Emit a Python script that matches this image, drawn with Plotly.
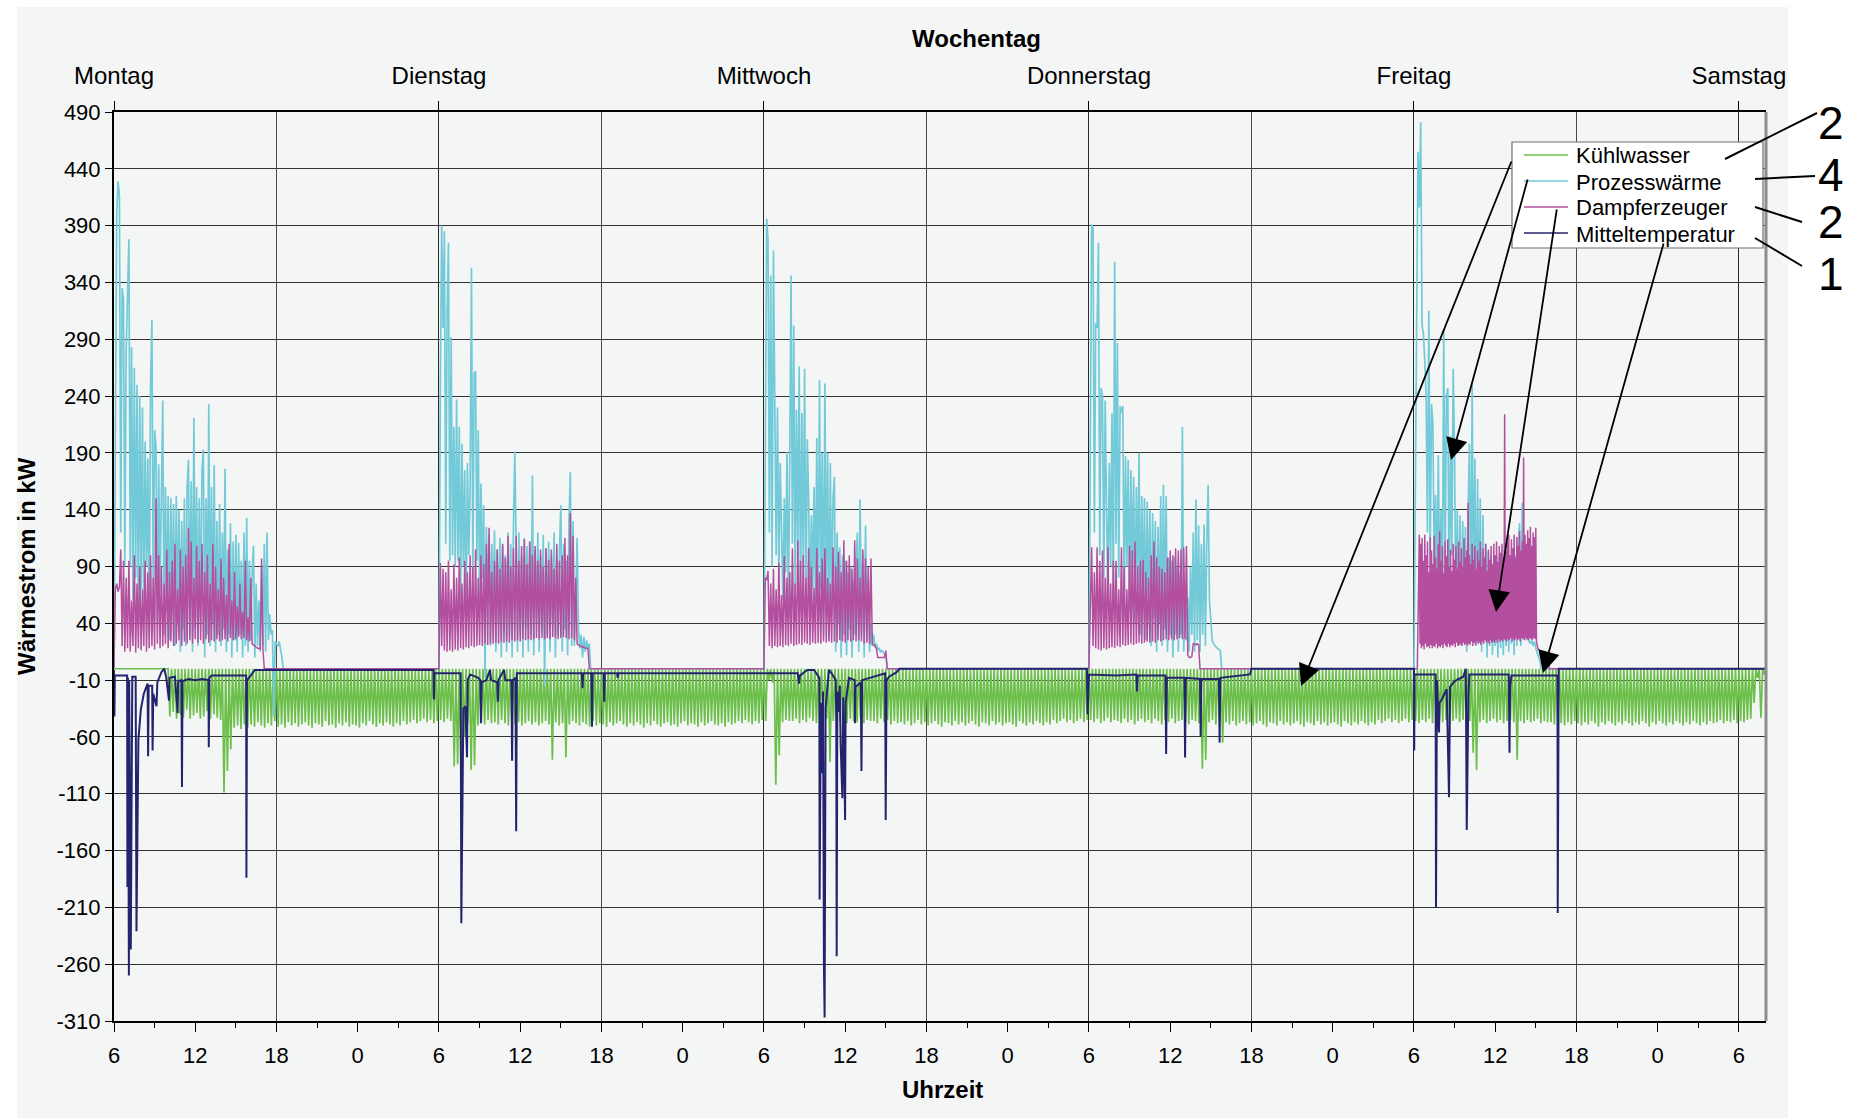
import plotly.graph_objects as go

# ------------------------------------------------------------------ data
DAY_NAMES = ["Montag", "Dienstag", "Mittwoch", "Donnerstag", "Freitag", "Samstag"]
DAY_TICKS = [6, 30, 54, 78, 102, 126]          # 6:00 of each day, hours since Monday 0:00
HOUR_TICKS = list(range(6, 127, 6))
HOUR_LABELS = [str(h % 24) for h in HOUR_TICKS]
Y_TICKS = list(range(-310, 491, 50))
Y_LABELS = [str(v) for v in Y_TICKS]
X_END = 128                                     # Saturday ~8:00
DAY_STARTS = [6, 30, 54, 78, 102]               # start of the sampled working periods
SAMPLE_H = 0.1                                  # sampling interval Prozesswärme / Dampferzeuger
FRI_MAG_SAMPLE_H = 0.05
GREEN_CYCLE_H = 0.25
GREEN_TOP = 0

# Prozesswärme (kW), sampled every 0.1 h from 6:00
cyan_mon = [0, 230, 400, 429, 416, 120, 335, 325, 90, 280,
            336, 378, 90, 283, 60, 265, 80, 250, 40, 240,
            70, 230, 40, 200, 90, 185, 30, 250, 307, 60,
            210, 196, 40, 180, 70, 170, 236, 30, 160, 50,
            152, 25, 150, 50, 145, 20, 152, 40, 140, 15,
            130, 35, 150, 20, 160, 184, 30, 165, 15, 221,
            35, 160, 20, 150, 40, 175, 193, 10, 150, 30,
            233, 20, 160, 40, 179, 15, 130, 30, 145, 20,
            120, 35, 176, 15, 105, 30, 128, 10, 112, 25,
            118, 15, 111, 30, 95, 10, 120, 20, 133, 15,
            95, 25, 85, 108, 10, 75, 20, 60, 15, 90,
            20, 110, 15, 120, 25, 48, 30, 34, -42, 24,
            22, 20, 24, 18, 10, 0]
cyan_tue = [0, 250, 390, 300, 385, 110, 315, 375, 95, 292,
            100, 213, 90, 237, 95, 213, 60, 198, 90, 175,
            40, 181, 100, 160, 353, 80, 260, 262, 95, 210,
            60, 163, 80, 144, -8, 125, 60, 118, 20, 110,
            50, 122, 15, 105, 40, 115, 10, 108, 45, 100,
            15, 120, 30, 110, 10, 125, 191, 105, 15, 120,
            30, 100, 10, 115, 35, 108, 15, 112, 30, 170,
            12, 105, 40, 120, 15, 100, 35, 118, -15, 106,
            30, 112, 15, 100, 40, 120, 10, 100, 30, 105,
            144, 15, 110, 35, 95, 12, 130, 173, 20, 130,
            20, 60, 115, 34, 18, 30, 10, 28, 15, 25,
            18, 22, 0]
cyan_wed = [0, 200, 396, 377, 120, 346, 90, 368, 234, 100,
            230, 80, 181, 131, 60, 150, 85, 191, 50, 180,
            346, 110, 302, 70, 228, 100, 266, 60, 225, 90,
            264, 50, 202, 149, 40, 135, 70, 160, 60, 203,
            40, 254, 70, 190, 30, 251, 60, 190, 25, 181,
            50, 150, 169, 15, 120, 40, 107, 10, 100, 30,
            95, 12, 85, 35, 90, 10, 78, 30, 95, 120,
            15, 149, 30, 100, 10, 126, 25, 78, 15, 40,
            20, 30, 19, 22, 17, 18, 15, 16, 14, 13,
            12, 0]
cyan_thu = [0, 250, 391, 388, 120, 304, 300, 375, 100, 247,
            240, 80, 236, 140, 70, 181, 90, 225, 60, 358,
            110, 287, 80, 231, 225, 231, 60, 187, 90, 184,
            50, 175, 80, 169, 40, 160, 70, 190, 30, 152,
            60, 150, 25, 147, 50, 140, 20, 137, 45, 130,
            15, 125, 40, 152, 20, 162, 35, 152, 15, 98,
            30, 95, 10, 98, 30, 90, 15, 84, 30, 213,
            15, 57, 25, 63, 15, 90, 30, 120, 15, 149,
            25, 126, 15, 110, 30, 127, 20, 110, 162, 60,
            40, 25, 22, 20, 19, 18, 17, 16, 0]
cyan_fri = [0, 150, 300, 455, 406, 481, 302, 295, 271, 240,
            120, 315, 100, 233, 215, 90, 153, 60, 188, 70,
            140, 50, 299, 80, 240, 247, 60, 205, 100, 264,
            188, 40, 140, 30, 135, 20, 130, 40, 125, 15,
            140, 198, 30, 250, 60, 185, 20, 167, 40, 150,
            15, 135, 25, 110, 10, 103, 20, 100, 12, 95,
            20, 100, 10, 98, 18, 105, 12, 95, 20, 100,
            15, 98, 22, 104, 12, 100, 20, 110, 128, 20,
            146, 30, 100, 25, 60, 24, 22, 25, 20, 24,
            18, 14, 10, 7, 0]

# Dampferzeuger (kW), sampled every 0.1 h (Friday every 0.05 h) from 6:00
mag_mon = [0, 70, 75, 68, 72, 105, 20, 95, 15, 80,
           18, 95, 15, 60, 20, 100, 14, 75, 18, 90,
           16, 70, 20, 95, 15, 85, 18, 100, 20, 80,
           17, 150, 22, 100, 18, 90, 20, 75, 22, 105,
           18, 85, 24, 95, 20, 110, 22, 70, 25, 105,
           20, 90, 24, 100, 22, 124, 25, 112, 22, 80,
           26, 108, 23, 95, 25, 110, 22, 85, 26, 100,
           23, 75, 25, 110, 24, 90, 26, 70, 24, 97,
           25, 80, 26, 65, 24, 110, 27, 60, 25, 85,
           26, 55, 28, 75, 26, 50, 27, 95, 25, 45,
           24, 80, 22, 21, 20, 19, 18, 18, 17, 97,
           17, 0]
mag_tue = [0, 93, 20, 88, 16, 85, 15, 95, 16, 70,
           15, 92, 17, 80, 16, 98, 18, 75, 17, 95,
           19, 85, 18, 100, 20, 90, 19, 105, 20, 80,
           21, 100, 20, 92, 22, 110, 21, 124, 22, 85,
           22, 95, 23, 105, 22, 88, 24, 110, 23, 98,
           24, 117, 23, 90, 25, 106, 24, 117, 25, 95,
           24, 108, 26, 114, 25, 92, 26, 112, 25, 100,
           26, 108, 27, 95, 26, 105, 27, 90, 26, 106,
           27, 96, 26, 105, 28, 88, 27, 110, 26, 95,
           27, 100, 28, 115, 27, 100, 26, 137, 27, 117,
           25, 80, 22, 21, 20, 20, 19, 19, 18, 18,
           18, 0]
mag_wed = [0, 80, 78, 86, 20, 75, 18, 88, 20, 70,
           19, 93, 20, 65, 19, 99, 21, 80, 20, 85,
           22, 106, 20, 75, 21, 113, 22, 95, 21, 100,
           23, 80, 22, 106, 21, 90, 23, 71, 22, 106,
           23, 85, 22, 97, 24, 106, 23, 80, 24, 75,
           23, 107, 24, 90, 23, 103, 25, 85, 24, 113,
           23, 95, 25, 100, 24, 88, 25, 113, 24, 97,
           25, 80, 24, 105, 22, 97, 23, 90, 22, 97,
           22, 21, 20, 18, 10, 10, 10, 10, 10, 10,
           16, 0]
mag_thu = [0, 63, 107, 20, 85, 18, 107, 17, 95, 16,
           104, 18, 80, 17, 107, 18, 75, 19, 95, 18,
           95, 20, 70, 19, 107, 21, 90, 20, 70, 21,
           108, 22, 104, 21, 112, 22, 90, 23, 95, 22,
           96, 23, 85, 24, 80, 23, 100, 24, 112, 23,
           98, 25, 90, 24, 88, 25, 85, 26, 98, 25,
           104, 26, 100, 25, 106, 26, 104, 27, 105, 26,
           107, 26, 108, 12, 10, 10, 11, 22, 22, 21,
           22, 21, 0]
mag_fri = [0, 0, 0, 0, 0, 0, 40, 95, 118, 22,
           110, 18, 115, 20, 95, 17, 118, 22, 100, 19,
           112, 20, 85, 18, 116, 21, 104, 18, 92, 20,
           117, 19, 98, 22, 88, 18, 110, 20, 121, 19,
           95, 21, 108, 18, 84, 22, 112, 20, 99, 19,
           114, 22, 90, 19, 105, 21, 86, 20, 110, 22,
           96, 19, 108, 23, 88, 20, 112, 21, 94, 22,
           106, 20, 90, 23, 115, 21, 98, 22, 104, 20,
           146, 22, 100, 21, 92, 24, 110, 20, 96, 23,
           108, 21, 88, 24, 104, 22, 95, 23, 112, 21,
           90, 24, 106, 22, 98, 25, 110, 23, 86, 24,
           105, 22, 96, 25, 108, 23, 92, 24, 110, 23,
           100, 25, 112, 23, 94, 26, 108, 24, 102, 25,
           110, 24, 96, 26, 224, 25, 104, 24, 112, 26,
           118, 25, 100, 27, 114, 24, 106, 26, 118, 25,
           98, 27, 116, 25, 108, 26, 121, 24, 104, 27,
           112, 26, 186, 25, 118, 27, 110, 26, 122, 25,
           115, 27, 125, 26, 108, 25, 120, 27, 116, 26,
           124, 24, 20, 18, 17, 16, 16, 15, 14, 14,
           13, 13, 12, 12, 11, 11, 10, 10, 10, 10,
           0]

# Kühlwasser: trough of each 0.25 h cycle (kW), from Monday 6:00
green_mon = [0, 0, 0, 0, 0, 0, 0, 0, 0, 0, 0, 0, 0, 0, 0, 0,
             -42, -38, -44, -40, -43, -36, -44, -41, -39, -44, -42, -37, -44, -40, -43, -45,
             -109, -90, -71, -52, -50, -53, -49, -52,
             -49, -51, -47, -50, -52, -48, -50, -46, -51, -49, -52, -47, -50, -48, -51, -49,
             -47, -50, -52, -48, -49, -51, -46, -50, -49, -52, -48, -50, -47, -51, -49, -50,
             -52, -48, -50, -46, -49, -51, -48, -50, -47, -49, -51, -48, -50, -46, -49, -47,
             -45, -48, -46, -44, -47, -45, -48, -46]
green_tue = [-45, -47, -44, -46, -86, -84, -86, -60,
             -48, -89, -85, -50, -47, -49, -45, -48,
             -47, -49, -45, -48, -50, -46, -49, -47, -50, -48, -46, -49, -47, -50, -48, -46,
             -49, -80, -47, -50, -48, -78, -49, -46,
             -48, -50, -47, -49, -51, -46, -50, -48, -49, -51, -47, -50, -48, -46, -49, -51,
             -48, -50, -47, -49, -52, -48, -50, -46, -49, -51, -48, -47, -50, -49, -51, -48,
             -46, -50, -48, -49, -51, -47, -50, -48, -46, -49, -50, -48, -51, -47, -49, -48,
             -46, -48, -45, -47, -49, -46, -48, -45]
green_wed = [-46, -10, -12, -102, -76, -47, -45, -46,
             -46, -44, -48, -45, -47, -43, -46, -48,
             -45, -47, -44, -82, -46, -43, -47, -45, -48, -44, -46, -47, -43, -48, -45, -46,
             -46, -48, -44, -47, -45, -49, -46, -48,
             -47, -49, -46, -50, -48, -45, -49, -47, -50, -48, -46, -49, -51, -47, -48, -50,
             -46, -49, -47, -50, -48, -46, -49, -51, -47, -48, -50, -46, -49, -47, -50, -48,
             -47, -49, -51, -46, -48, -50, -47, -49, -46, -48, -50, -47, -49, -45, -48, -46,
             -44, -47, -45, -48, -46, -44, -47, -45]
green_thu = [-45, -47, -44, -48, -46, -43, -47, -45,
             -46, -48, -44, -47, -45, -49, -46, -44,
             -47, -45, -48, -44, -46, -49, -45, -47, -44, -48, -46, -45, -47, -49, -45, -46,
             -48, -88, -80, -47, -45, -49, -46, -65,
             -47, -49, -46, -50, -48, -46, -49, -47, -50, -48, -46, -49, -51, -47, -48, -50,
             -46, -49, -47, -50, -48, -46, -49, -51, -47, -48, -50, -46, -49, -47, -50, -48,
             -47, -49, -51, -46, -48, -50, -47, -49, -46, -48, -50, -47, -49, -45, -48, -46,
             -44, -47, -45, -48, -46, -44, -47, -45]
green_fri = [-46, -48, -45, -47, -44, -48, -46, -45,
             -47, -45, -48, -46, -44, -47, -45, -48,
             -46, -74, -89, -47, -45, -48, -46, -44, -47, -45, -48, -46, -45, -47, -80, -46,
             -48, -45, -47, -46, -44, -48, -46, -47,
             -47, -49, -46, -48, -50, -47, -49, -46, -48, -50, -47, -49, -46, -48, -51, -47,
             -49, -46, -48, -50, -47, -49, -46, -48, -50, -47, -49, -46, -48, -51, -47, -49,
             -46, -48, -50, -47, -49, -46, -48, -50, -47, -49, -46, -48, -50, -47, -49, -46,
             -48, -47, -45, -48, -46, -47, -45, -48]
green_sat = [-46, -47, -45, -44, -30, -8, -43, -5]

# Mitteltemperatur: (hour of day, kW) per day
nav_mon_h = [6.0, 6.03, 6.06, 6.97, 6.99, 7.03, 7.1, 7.12, 7.24, 7.3,
             7.35, 7.6, 7.66, 7.8, 7.98, 8.2, 8.48, 8.52, 8.56, 8.82,
             8.85, 8.9, 9.14, 9.2, 9.5, 9.71, 9.85, 10.06, 10.1, 10.5,
             10.7, 10.74, 10.98, 11.02, 11.06, 11.5, 12.0, 12.5, 12.97, 13.0,
             13.04, 13.2, 15.76, 15.78, 15.82, 16.1, 16.4]
nav_mon_v = [-1, -42, -6, -6, -192, -8, -270, -10, -247, -48,
             -7, -7, -231, -63, -36, -22, -13, -77, -15, -15,
             -72, -22, -33, -12, -3, 0, -7, -28, -8, -7,
             -39, -11, -10, -104, -11, -9, -10, -9, -10, -69,
             -8, -6, -6, -184, -10, -6, -1]
nav_tue_h = [5.6, 5.63, 5.66, 7.6, 7.65, 7.8, 7.95, 8.07, 8.12, 8.3,
             8.9, 9.05, 9.1, 9.15, 9.5, 9.77, 9.85, 10.3, 10.35, 10.4,
             10.8, 10.9, 11.35, 11.4, 11.45, 11.65, 11.7, 11.75, 16.55, 16.6,
             16.65, 17.25, 17.3, 17.35, 18.15, 18.2, 18.25, 19.15, 19.2, 19.25]
nav_tue_v = [-1, -27, -4, -4, -224, -35, -33, -78, -10, -5,
             -8, -10, -48, -12, -10, -1, -10, -12, -29, -10,
             -1, -10, -10, -81, -10, -8, -143, -4, -4, -17,
             -4, -4, -51, -4, -4, -29, -4, -4, -8, -4]
nav_wed_h = [8.5, 8.59, 8.65, 9.0, 9.2, 9.7, 9.9, 10.09, 10.11, 10.2,
             10.31, 10.36, 10.43, 10.48, 10.55, 10.8, 11.0, 11.3, 11.34, 11.37,
             11.42, 11.54, 11.6, 11.66, 11.79, 11.85, 11.99, 12.03, 12.28, 12.7,
             12.72, 12.76, 13.15, 13.2, 13.25, 13.8, 14.5, 14.95, 14.99, 15.05,
             15.24, 15.8, 16.0]
nav_wed_v = [-4, -13, -6, -3, -1, -1, -5, -8, -203, -30,
             -92, -20, -264, -307, -35, -1, -4, -10, -48, -253,
             -20, -38, -15, -66, -114, -25, -133, -30, -8, -10,
             -48, -16, -12, -90, -10, -8, -6, -4, -133, -10,
             -7, -3, 0]
nav_thu_h = [5.85, 5.9, 5.95, 6.0, 8.0, 9.5, 9.55, 9.6, 11.65, 11.7,
             11.75, 13.05, 13.1, 13.15, 14.2, 14.25, 14.3, 15.6, 15.65, 15.7,
             17.9, 18.0]
nav_thu_v = [0, -40, -5, -5, -6, -5, -20, -6, -6, -75,
             -8, -8, -78, -8, -9, -60, -9, -9, -65, -8,
             -5, 0]
nav_fri_h = [6.0, 6.02, 6.05, 7.6, 7.63, 7.7, 7.75, 7.85, 7.9, 8.05,
             8.42, 8.49, 8.59, 8.67, 9.0, 9.3, 9.65, 9.83, 9.9, 10.02,
             10.1, 13.0, 13.06, 13.1, 13.2, 16.6, 16.62, 16.69]
nav_fri_v = [0, -72, -5, -5, -210, -10, -30, -56, -30, -27,
             -18, -56, -113, -16, -11, -9, -7, 0, -142, -24,
             -5, -5, -74, -16, -6, -6, -215, 0]

# ------------------------------------------------------------------ series assembly
def sampled(starts, steps, lists, end):
    xs, ys = [], []
    for s, st, vals in zip(starts, steps, lists):
        for i, v in enumerate(vals):
            xs.append(s + i * st)
            ys.append(v)
    xs.append(end)
    ys.append(0)
    return xs, ys

cx, cy = sampled(DAY_STARTS, [SAMPLE_H] * 5,
                 [cyan_mon, cyan_tue, cyan_wed, cyan_thu, cyan_fri], X_END)
mx, my = sampled(DAY_STARTS, [SAMPLE_H] * 4 + [FRI_MAG_SAMPLE_H],
                 [mag_mon, mag_tue, mag_wed, mag_thu, mag_fri], X_END)

troughs = green_mon + green_tue + green_wed + green_thu + green_fri + green_sat
gx, gy = [], []
for i, v in enumerate(troughs):
    t = DAY_TICKS[0] + i * GREEN_CYCLE_H
    gx += [t, t + GREEN_CYCLE_H / 2]
    gy += [GREEN_TOP, v]
gx += [DAY_TICKS[0] + len(troughs) * GREEN_CYCLE_H, X_END]
gy += [GREEN_TOP, GREEN_TOP]

nx, ny = [], []
for d, (hh, vv) in enumerate([(nav_mon_h, nav_mon_v), (nav_tue_h, nav_tue_v),
                              (nav_wed_h, nav_wed_v), (nav_thu_h, nav_thu_v),
                              (nav_fri_h, nav_fri_v)]):
    nx += [24 * d + h for h in hh]
    ny += vv
nx.append(X_END)
ny.append(0)

# ------------------------------------------------------------------ figure
W, H = 1854, 1120
L, R, T, B = 114, 88, 112, 99
PW, PH = W - L - R, H - T - B


def px(x):
    return (x - L) / PW


def py(y):
    return (H - B - y) / PH


FONT = "Liberation Sans, Arial, sans-serif"
C_GREEN, C_CYAN, C_MAG, C_NAVY = "#6cbf4a", "#72cad8", "#b44f9f", "#24246e"
BG = "#f4f6f6"

fig = go.Figure()
fig.add_trace(go.Scatter(x=gx, y=gy, mode="lines", name="Kühlwasser",
                         line=dict(color=C_GREEN, width=1.7), hoverinfo="skip"))
fig.add_trace(go.Scatter(x=cx, y=cy, mode="lines", name="Prozesswärme",
                         line=dict(color=C_CYAN, width=1.7), hoverinfo="skip"))
fig.add_trace(go.Scatter(x=mx, y=my, mode="lines", name="Dampferzeuger",
                         line=dict(color=C_MAG, width=1.5), hoverinfo="skip"))
fig.add_trace(go.Scatter(x=nx, y=ny, mode="lines", name="Mitteltemperatur",
                         line=dict(color=C_NAVY, width=2), hoverinfo="skip"))
# carriers for the top axis and the 18:00 grid
fig.add_trace(go.Scatter(x=[6, 128], y=[0, 0], xaxis="x2", mode="lines", opacity=0,
                         line=dict(width=0), hoverinfo="skip"))
fig.add_trace(go.Scatter(x=[6, 128], y=[0, 0], xaxis="x3", mode="lines", opacity=0,
                         line=dict(width=0), hoverinfo="skip"))

fig.update_layout(
    width=W, height=H, showlegend=False,
    margin=dict(l=L, r=R, t=T, b=B),
    paper_bgcolor="white", plot_bgcolor="rgba(0,0,0,0)",
    font=dict(family=FONT, size=22, color="black"),
    xaxis=dict(range=[6, X_END], tickmode="array", tickvals=HOUR_TICKS, ticktext=HOUR_LABELS,
               ticks="outside", ticklen=9, tickwidth=1.2, tickcolor="black",
               ticklabelstandoff=5, showgrid=False, zeroline=False,
               showline=True, linecolor="black", linewidth=2,
               minor=dict(tickmode="array", tickvals=list(range(9, 128, 6)),
                          ticks="outside", ticklen=5, tickcolor="black")),
    xaxis2=dict(overlaying="x", side="top", range=[6, X_END], tickmode="array",
                tickvals=DAY_TICKS, ticktext=DAY_NAMES, tickfont=dict(size=24),
                ticks="outside", ticklen=9, tickcolor="black", ticklabelstandoff=7,
                showgrid=True, gridcolor="#2a2a2a", gridwidth=1.2, zeroline=False,
                showline=True, linecolor="black", linewidth=2),
    xaxis3=dict(overlaying="x", range=[6, X_END], tickmode="array",
                tickvals=[18, 42, 66, 90, 114], showticklabels=False, ticks="",
                showgrid=True, gridcolor="#4a4a4a", gridwidth=1, zeroline=False, showline=False),
    yaxis=dict(range=[-310, 490], tickmode="array", tickvals=Y_TICKS, ticktext=Y_LABELS,
               ticks="outside", ticklen=7, tickcolor="black", ticklabelstandoff=0,
               showgrid=True, gridcolor="#333333", gridwidth=1.2, zeroline=False,
               showline=True, linecolor="black", linewidth=2),
)

shapes = [
    # grey chart panel
    dict(type="rect", xref="paper", yref="paper", x0=px(17), x1=px(1788), y0=py(1118), y1=py(7),
         fillcolor=BG, line=dict(width=0), layer="below"),
    # right frame of plot area
    dict(type="line", xref="paper", yref="paper", x0=1, x1=1, y0=0, y1=1,
         line=dict(color="#8c8c8c", width=3)),
    # legend box
    dict(type="rect", xref="paper", yref="paper", x0=px(1512), x1=px(1763), y0=py(248), y1=py(142),
         fillcolor="white", line=dict(color="#6e6e6e", width=1.2), layer="above"),
]
legend_items = [("Kühlwasser", C_GREEN, 155), ("Prozesswärme", C_CYAN, 181),
                ("Dampferzeuger", C_MAG, 207), ("Mitteltemperatur", C_NAVY, 233)]
annotations = []
for name, col, yy in legend_items:
    shapes.append(dict(type="line", xref="paper", yref="paper", x0=px(1524), x1=px(1568),
                       y0=py(yy), y1=py(yy), line=dict(color=col, width=1.5), layer="above"))
    annotations.append(dict(text=name, xref="paper", yref="paper", x=px(1575), y=py(yy + 1),
                            xanchor="left", yanchor="middle", showarrow=False, borderpad=0,
                            font=dict(size=22, family=FONT, color="black")))

# callout lines to the numbers at the right
for (x0, y0, x1, y1) in [(1725, 159, 1817, 113), (1755, 179, 1815, 176),
                         (1755, 207, 1802, 222), (1755, 238, 1802, 266)]:
    shapes.append(dict(type="line", xref="paper", yref="paper", x0=px(x0), x1=px(x1),
                       y0=py(y0), y1=py(y1), line=dict(color="black", width=2)))
for txt, yy in [("2", 123), ("4", 175), ("2", 222), ("1", 274)]:
    annotations.append(dict(text=txt, xref="paper", yref="paper", x=px(1831), y=py(yy),
                            xanchor="center", yanchor="middle", showarrow=False, borderpad=0,
                            font=dict(size=46, family=FONT, color="black")))

# arrows from the legend into the plot
for (tx, ty, hx, hy) in [(1512, 160, 1301, 686), (1528, 178, 1451, 460),
                         (1557, 208, 1496, 612), (1664, 242, 1543, 673)]:
    annotations.append(dict(text="", xref="paper", yref="paper", x=px(hx), y=py(hy),
                            ax=tx - hx, ay=ty - hy, axref="pixel", ayref="pixel",
                            showarrow=True, arrowhead=2, arrowsize=2.4, arrowwidth=1.8,
                            arrowcolor="black", standoff=0))

# axis titles
annotations.append(dict(text="<b>Wochentag</b>", xref="paper", yref="paper", x=px(977), y=py(39),
                        xanchor="center", yanchor="middle", showarrow=False,
                        font=dict(size=24, family=FONT)))
annotations.append(dict(text="<b>Uhrzeit</b>", xref="paper", yref="paper", x=px(942), y=py(1089),
                        xanchor="center", yanchor="middle", showarrow=False,
                        font=dict(size=24, family=FONT)))
annotations.append(dict(text="<b>Wärmestrom in kW</b>", xref="paper", yref="paper", x=px(26), y=py(566),
                        xanchor="center", yanchor="middle", showarrow=False, textangle=-90,
                        font=dict(size=24, family=FONT)))

fig.update_layout(shapes=shapes, annotations=annotations)
fig.write_html("out.html")
